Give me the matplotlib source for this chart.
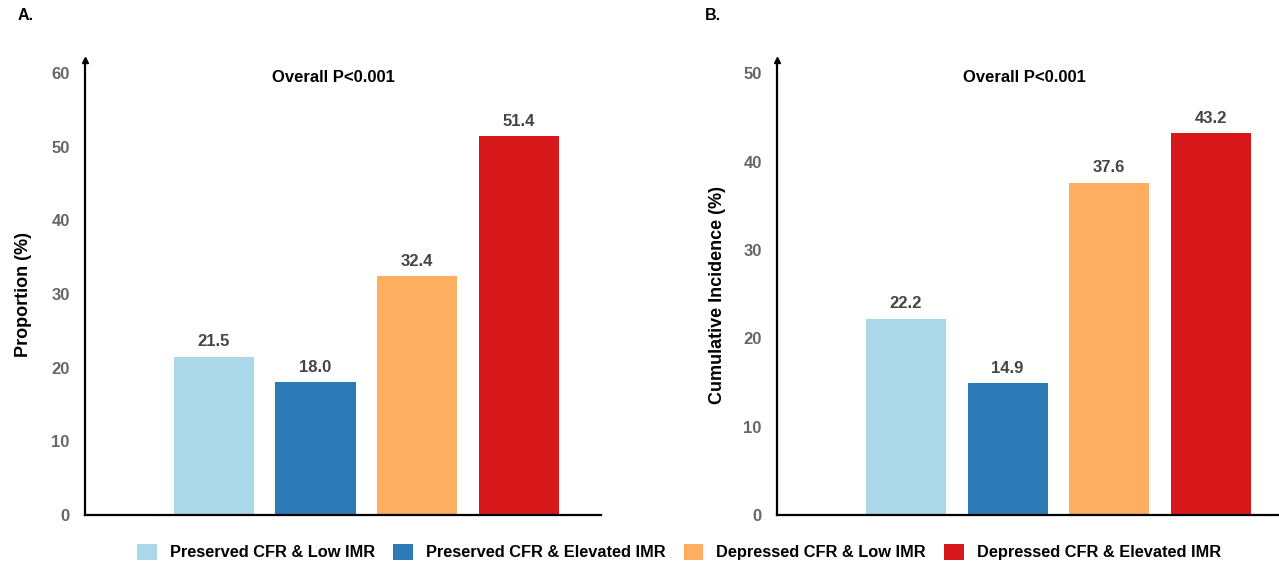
import matplotlib.pyplot as plt
from matplotlib.patches import Patch

plt.rcParams['font.family'] = ['Liberation Sans', 'DejaVu Sans']

# groups and values
groups = ['Preserved CFR & Low IMR', 'Preserved CFR & Elevated IMR',
          'Depressed CFR & Low IMR', 'Depressed CFR & Elevated IMR']
colors = ['#abd9e9', '#2c7bb6', '#fdae61', '#d7191c']
proportion = [21.5, 18.0, 32.4, 51.4]
cum_incidence = [22.2, 14.9, 37.6, 43.2]

fig = plt.figure(figsize=(12.79, 5.65), dpi=100)

panels = [
    dict(rect=[0.0665, 0.0885, 0.4034, 0.805], vals=proportion, ymax=60, ytop=61.76,
         xlim=(-1.27, 3.81), ylabel='Proportion (%)', tag='A.', tag_x=0.014,
         p_x=0.261, ylab_x=0.018),
    dict(rect=[0.6075, 0.0885, 0.3925, 0.805], vals=cum_incidence, ymax=50, ytop=51.47,
         xlim=(-1.27, 3.67), ylabel='Cumulative Incidence (%)', tag='B.', tag_x=0.551,
         p_x=0.801, ylab_x=0.561),
]

for p in panels:
    ax = fig.add_axes(p['rect'])
    x = range(len(groups))
    bars = ax.bar(x, p['vals'], width=0.79, color=colors)
    for b, v in zip(bars, p['vals']):
        ax.text(b.get_x() + b.get_width() / 2, v + p['ymax'] * 0.017, f'{v:.1f}',
                ha='center', va='bottom', fontsize=12, fontweight='bold', color='#444444')
    ax.set_xlim(*p['xlim'])
    ax.set_ylim(0, p['ytop'])
    ax.set_yticks(range(0, p['ymax'] + 1, 10))
    ax.set_xticks([])
    ax.tick_params(axis='y', length=0, pad=11, labelsize=12, labelcolor='#666666')
    for lab in ax.get_yticklabels():
        lab.set_fontweight('bold')
    for s in ['top', 'right']:
        ax.spines[s].set_visible(False)
    ax.spines['left'].set_linewidth(1.6)
    ax.spines['bottom'].set_linewidth(1.6)
    # arrow head on top of the y axis
    ax.plot(0, 1, marker='^', color='black', markersize=5, transform=ax.transAxes, clip_on=False)
    fig.text(p['ylab_x'], 0.478, p['ylabel'], rotation=90, ha='center', va='center',
             fontsize=13, fontweight='bold')
    fig.text(p['tag_x'], 0.972, p['tag'], ha='left', va='center', fontsize=11.5, fontweight='bold')
    fig.text(p['p_x'], 0.862, 'Overall P<0.001', ha='center', va='center',
             fontsize=12, fontweight='bold')

handles = [Patch(facecolor=c, edgecolor='none') for c in colors]
leg = fig.legend(handles, groups, loc='center', bbox_to_anchor=(0.531, 0.023), ncol=4,
                 frameon=False, fontsize=11.8, handlelength=1.2, handleheight=1.2,
                 handletextpad=0.8, columnspacing=1.1)
for t in leg.get_texts():
    t.set_fontweight('bold')

fig.savefig('out.png', dpi=100)
